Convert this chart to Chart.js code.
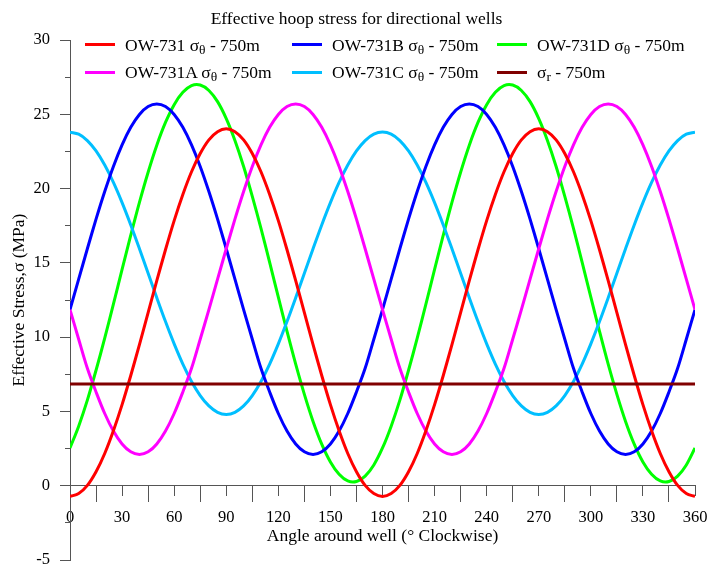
<!DOCTYPE html>
<html><head><meta charset="utf-8">
<script src="https://cdn.jsdelivr.net/npm/chart.js@4.4.1/dist/chart.umd.min.js"></script>
<style>
html,body{margin:0;padding:0;background:#fff;}
#wrap{position:relative;width:713px;height:567px;}
#c{position:absolute;left:0;top:0;}
#legend{position:absolute;left:0;top:0;width:713px;height:100px;font-family:'Liberation Serif','Times New Roman',serif;font-size:17.5px;color:#000;pointer-events:none;}
.item{position:absolute;display:flex;align-items:center;height:20px;white-space:nowrap;line-height:20px;}
.swatch{display:inline-block;width:30px;height:3px;margin-right:10px;}
.item sub{font-size:13.5px;line-height:0;vertical-align:-3px;}
</style></head>
<body><div id="wrap"><canvas id="c" width="713" height="567"></canvas><div id="legend"></div></div>
<script>
// Angle around well (degrees, clockwise)
const angles = [0,5,10,15,20,25,30,35,40,45,50,55,60,65,70,75,80,85,90,95,100,105,110,115,120,125,130,135,140,145,150,155,160,165,170,175,180,
  185,190,195,200,205,210,215,220,225,230,235,240,245,250,255,260,265,270,275,280,285,290,295,300,305,310,315,320,325,330,335,340,345,350,355,360];

// Effective hoop stress (MPa)
const ow731 = [-0.72,-0.53,0.02,0.94,2.17,3.70,5.46,7.42,9.50,11.65,13.80,15.88,17.84,19.60,21.13,22.36,23.28,23.83,24.02,23.83,23.28,22.36,21.13,19.60,17.84,15.88,13.80,11.65,9.50,7.42,5.46,3.70,2.17,0.94,0.02,-0.53,-0.72,
  -0.53,0.02,0.94,2.17,3.70,5.46,7.42,9.50,11.65,13.80,15.88,17.84,19.60,21.13,22.36,23.28,23.83,24.02,23.83,23.28,22.36,21.13,19.60,17.84,15.88,13.80,11.65,9.50,7.42,5.46,3.70,2.17,0.94,0.02,-0.53,-0.72];
const ow731A = [11.85,9.86,7.90,6.31,4.86,3.68,2.81,2.28,2.10,2.28,2.81,3.68,4.86,6.31,7.90,9.86,11.85,13.90,15.95,17.94,19.80,21.49,22.94,24.12,24.99,25.52,25.70,25.52,24.99,24.12,22.94,21.49,19.80,17.94,15.95,13.90,11.85,
  9.86,7.90,6.31,4.86,3.68,2.81,2.28,2.10,2.28,2.81,3.68,4.86,6.31,7.90,9.86,11.85,13.90,15.95,17.94,19.80,21.49,22.94,24.12,24.99,25.52,25.70,25.52,24.99,24.12,22.94,21.49,19.80,17.94,15.95,13.90,11.85];
const ow731B = [11.85,13.90,15.95,17.94,19.80,21.49,22.94,24.12,24.99,25.52,25.70,25.52,24.99,24.12,22.94,21.49,19.80,17.94,15.95,13.90,11.85,9.86,7.90,6.31,4.86,3.68,2.81,2.28,2.10,2.28,2.81,3.68,4.86,6.31,7.90,9.86,11.85,
  13.90,15.95,17.94,19.80,21.49,22.94,24.12,24.99,25.52,25.70,25.52,24.99,24.12,22.94,21.49,19.80,17.94,15.95,13.90,11.85,9.86,7.90,6.31,4.86,3.68,2.81,2.28,2.10,2.28,2.81,3.68,4.86,6.31,7.90,9.86,11.85];
const ow731C = [23.80,23.66,23.23,22.53,21.58,20.41,19.05,17.55,15.95,14.30,12.65,11.05,9.55,8.19,7.02,6.07,5.37,4.94,4.80,4.94,5.37,6.07,7.02,8.19,9.55,11.05,12.65,14.30,15.95,17.55,19.05,20.41,21.58,22.53,23.23,23.66,23.80,
  23.66,23.23,22.53,21.58,20.41,19.05,17.55,15.95,14.30,12.65,11.05,9.55,8.19,7.02,6.07,5.37,4.94,4.80,4.94,5.37,6.07,7.02,8.19,9.55,11.05,12.65,14.30,15.95,17.55,19.05,20.41,21.58,22.53,23.23,23.66,23.80];
const ow731D = [2.54,4.01,5.76,7.77,9.93,12.22,14.56,16.86,19.07,21.10,22.92,24.45,25.65,26.48,26.93,26.97,26.60,25.85,24.71,23.24,21.49,19.48,17.32,15.03,12.69,10.39,8.18,6.15,4.33,2.80,1.60,0.77,0.32,0.28,0.65,1.40,2.54,
  4.01,5.76,7.77,9.93,12.22,14.56,16.86,19.07,21.10,22.92,24.45,25.65,26.48,26.93,26.97,26.60,25.85,24.71,23.24,21.49,19.48,17.32,15.03,12.69,10.39,8.18,6.15,4.33,2.80,1.60,0.77,0.32,0.28,0.65,1.40,2.54];
// Radial effective stress (MPa), constant around the well
const sigmaRAngles = [0, 360];
const sigmaR = [6.85, 6.85];

// Series labels: main text, subscript, tail
const seriesMain = ['OW-731 \u03C3','OW-731A \u03C3','OW-731B \u03C3','OW-731C \u03C3','OW-731D \u03C3','\u03C3'];
const seriesSub = ['\u03B8','\u03B8','\u03B8','\u03B8','\u03B8','r'];
const seriesTail = ' - 750m';
const seriesX = [angles, angles, angles, angles, angles, sigmaRAngles];
const seriesValues = [ow731, ow731A, ow731B, ow731C, ow731D, sigmaR];
const seriesColors = ['#ff0000','#ff00ff','#0000ff','#00bfff','#00ff00','#800000'];

const serif = "'Liberation Serif','Times New Roman',serif";
const axisColor = '#555555';

const datasets = seriesValues.map((vals, i) => ({
  label: seriesMain[i] + seriesSub[i] + seriesTail,
  data: seriesX[i].map((a, k) => ({x: a, y: vals[k]})),
  borderColor: seriesColors[i],
  backgroundColor: seriesColors[i],
  borderWidth: 3,
  pointRadius: 0,
  tension: 0.33,
  fill: false,
  order: i === 5 ? -1 : i
}));

const chart = new Chart(document.getElementById('c'), {
  type: 'line',
  data: {datasets},
  options: {
    responsive: false,
    animation: false,
    layout: {padding: {left: 0, right: 0, top: 0, bottom: 7}},
    plugins: {
      legend: {display: false},
      tooltip: {enabled: false},
      title: {display: true, text: 'Effective hoop stress for directional wells', color: '#000',
        font: {family: serif, size: 17.5, weight: 'normal'}, padding: {top: 9, bottom: 10}}
    },
    scales: {
      x: {
        type: 'linear', position: {y: 0}, min: 0, max: 360,
        ticks: {stepSize: 15, autoSkip: false, maxRotation: 0, minRotation: 0, padding: 6, color: '#000',
          font: {family: serif, size: 16.5}, callback: v => (v % 30 === 0 ? String(v) : '')},
        grid: {display: true, drawOnChartArea: false, drawTicks: true, tickLength: 16, tickWidth: 1,
          tickColor: ctx => (ctx.tick && ctx.tick.value % 30 === 0) ? 'rgba(0,0,0,0)' : axisColor},
        border: {display: true, color: axisColor, width: 1},
        title: {display: true, text: 'Angle around well (\u00B0 Clockwise)', color: '#000',
          font: {family: serif, size: 17.5}, padding: {top: 0, bottom: -61}},
        afterFit: s => { s.height = 0; s.paddingLeft = 0; s.paddingRight = 18; s.paddingTop = 0; s.paddingBottom = 0; }
      },
      x2: {
        type: 'linear', position: {y: 0}, min: 0, max: 360,
        ticks: {display: false, stepSize: 30},
        grid: {display: true, drawOnChartArea: false, drawTicks: true, tickLength: 10, tickWidth: 1, tickColor: axisColor},
        border: {display: false},
        afterFit: s => { s.height = 0; s.paddingLeft = 0; s.paddingRight = 0; s.paddingTop = 0; s.paddingBottom = 0; }
      },
      y: {
        type: 'linear', position: 'left', min: -5, max: 30,
        ticks: {stepSize: 2.5, autoSkip: false, padding: 15, color: '#000',
          font: {family: serif, size: 16.5}, callback: v => (v % 5 === 0 ? String(v) : '')},
        grid: {display: true, drawOnChartArea: false, drawTicks: true, tickLength: 5, tickWidth: 1, tickColor: axisColor},
        border: {display: true, color: axisColor, width: 1},
        title: {display: true, text: 'Effective Stress,\u03C3 (MPa)', color: '#000',
          font: {family: serif, size: 17.5}, padding: {top: 9, bottom: 0}},
        afterFit: s => { s.width = 70; s.paddingTop = 0; s.paddingBottom = 0; s.paddingLeft = 0; s.paddingRight = 0; }
      },
      y2: {
        type: 'linear', position: {x: 0}, min: -5, max: 30,
        ticks: {display: false, stepSize: 5},
        grid: {display: true, drawOnChartArea: false, drawTicks: true, tickLength: 10, tickWidth: 1, tickColor: axisColor},
        border: {display: false},
        afterFit: s => { s.width = 0; s.paddingTop = 0; s.paddingBottom = 0; s.paddingLeft = 0; s.paddingRight = 0; }
      }
    }
  }
});

// HTML legend built from the chart's datasets (allows real subscripts)
const legendLeft = [85, 292, 497];
const legendRowCenter = [44.5, 72];
const legendEl = document.getElementById('legend');
chart.data.datasets.forEach((ds, i) => {
  const col = Math.floor(i / 2), row = i % 2;
  const item = document.createElement('div');
  item.className = 'item';
  item.style.left = legendLeft[col] + 'px';
  item.style.top = (legendRowCenter[row] - 10) + 'px';
  const sw = document.createElement('span');
  sw.className = 'swatch';
  sw.style.background = ds.borderColor;
  item.appendChild(sw);
  const txt = document.createElement('span');
  txt.appendChild(document.createTextNode(seriesMain[i]));
  const sub = document.createElement('sub');
  sub.textContent = seriesSub[i];
  txt.appendChild(sub);
  txt.appendChild(document.createTextNode(seriesTail));
  item.appendChild(txt);
  legendEl.appendChild(item);
});
</script>
</body></html>
